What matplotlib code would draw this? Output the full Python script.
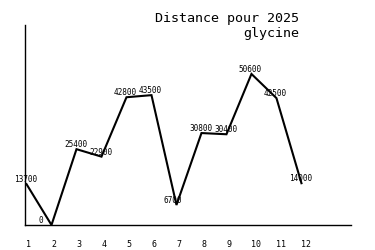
import matplotlib
matplotlib.use("Agg")
import matplotlib.pyplot as plt

# valeurs mensuelles
months = [1, 2, 3, 4, 5, 6, 7, 8, 9, 10, 11, 12]
distances = [13700, 0, 25400, 22900, 42800, 43500, 6700, 30800, 30400, 50600, 42500, 14000]
tick_labels = [str(m) for m in months]
title_lines = ["Distance pour 2025", "glycine"]

fig = plt.figure(figsize=(3.75, 2.5), dpi=100)
fig.patch.set_facecolor("white")
ax = fig.add_axes([25 / 375, 25 / 250, 325.7 / 375, 200 / 250])

ax.plot(months, distances, color="black", lw=1.5, solid_joinstyle="miter")

for m, d in zip(months, distances):
    ax.annotate(str(d), (m, d), xytext=(-9, 3.2), textcoords="offset points",
                ha="left", va="center", fontsize=5.6, family="DejaVu Sans Mono")

ax.set_xlim(0.94, 13.97)
ax.set_ylim(0, 67000)

ax.set_xticks(months)
ax.set_xticklabels(tick_labels, fontsize=6, family="DejaVu Sans Mono")
for lab in ax.get_xticklabels():
    lab.set_ha("left")
ax.tick_params(axis="x", length=0, pad=11)
ax.set_yticks([])

for side in ["top", "right"]:
    ax.spines[side].set_visible(False)
for side in ["left", "bottom"]:
    ax.spines[side].set_linewidth(1)
    ax.spines[side].set_color("black")

# titre en haut à droite
fig.text(299 / 375, 1 - 18.5 / 250, title_lines[0], ha="right", va="center",
         fontsize=9.6, family="DejaVu Sans Mono")
fig.text(299 / 375, 1 - 33.5 / 250, title_lines[1], ha="right", va="center",
         fontsize=9.6, family="DejaVu Sans Mono")

fig.savefig("out.png", dpi=100)
